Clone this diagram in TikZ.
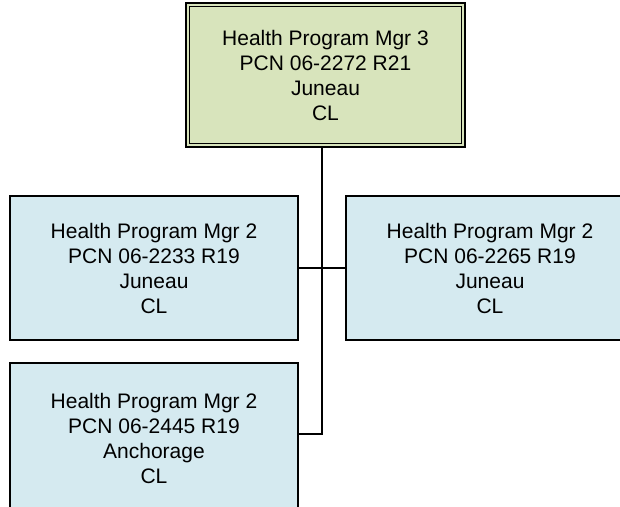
\documentclass[tikz,border=0pt]{standalone}
\usepackage{fontspec}
\setmainfont{Liberation Sans}
\usetikzlibrary{calc}
\definecolor{topfill}{HTML}{D8E4BC}
\definecolor{boxfill}{HTML}{D5EAF0}
\tikzset{
  orgbox/.style={draw=black, line width=1.6pt, fill=boxfill, minimum width=288pt, minimum height=144pt,
    align=center, inner sep=0pt, font=\fontsize{21}{25}\selectfont},
  topbox/.style={orgbox, fill=topfill, minimum width=279pt, line width=2pt},
  conn/.style={draw=black, line width=1.6pt}
}
\begin{document}
\begin{tikzpicture}[x=1pt,y=-1pt]
\useasboundingbox (0,0) rectangle (620,506);
\clip (0,0) rectangle (620,506);
\node[topbox] (top) at (325.5,75) {Health Program Mgr 3\\PCN 06-2272 R21\\Juneau\\CL};
\draw[line width=1pt] ($(top.north west)+(4.5pt,-4.5pt)$) rectangle ($(top.south east)+(-4.5pt,4.5pt)$);
\node[orgbox] (b1) at (154,268) {Health Program Mgr 2\\PCN 06-2233 R19\\Juneau\\CL};
\node[orgbox] (b2) at (490,268) {Health Program Mgr 2\\PCN 06-2265 R19\\Juneau\\CL};
\node[orgbox, minimum height=150pt] (b3) at (154,438) {Health Program Mgr 2\\PCN 06-2445 R19\\Anchorage\\CL};
\coordinate (j1) at (322,0);
\coordinate (b3c) at ($(b3.north east)+(0,72)$);
\draw[conn] (j1 |- top.south) -- (j1 |- b3c) -- (b3c);
\draw[conn] (b1.east) -- (b2.west);
\end{tikzpicture}
\end{document}
